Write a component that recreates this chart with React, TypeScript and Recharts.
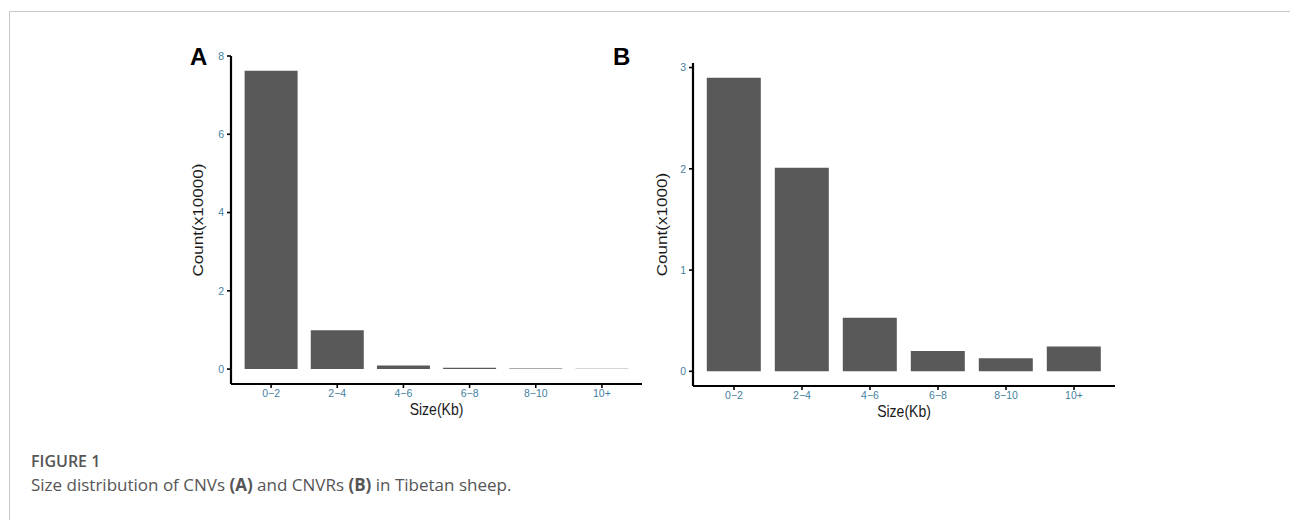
import React from "react"
import { BarChart, Bar, XAxis, YAxis } from "recharts"

const sizeBins = ["0-2", "2-4", "4-6", "6-8", "8-10", "10+"]
const cnvCounts = [7.62, 0.99, 0.09, 0.035, 0.012, 0.01]
const cnvrCounts = [2.9, 2.01, 0.53, 0.2, 0.128, 0.246]
const cnvTicks = [0, 2, 4, 6, 8]
const cnvrTicks = [0, 1, 2, 3]

const dataA = sizeBins.map((bin, i) => ({ bin, count: cnvCounts[i] }))
const dataB = sizeBins.map((bin, i) => ({ bin, count: cnvrCounts[i] }))

const tickColor = "#3f7f9f"
const axisFont = "'Liberation Sans', Arial, sans-serif"

const tickStyle = { fill: tickColor, fontSize: 10.5, fontFamily: axisFont }

// the source figure is stretched vertically, so axis titles are drawn a bit tall
function XTitle({ viewBox, value }: any) {
  const { x, y, width } = viewBox
  return (
    <text
      transform={`translate(${x + width / 2},${y + 31}) scale(1,1.2)`}
      textAnchor="middle"
      fontFamily={axisFont}
      fontSize={14}
      fill="#1a1a1a"
    >
      {value}
    </text>
  )
}

function makeYTitle(offset: number) {
  return ({ viewBox, value }: any) => {
    const { x, y, height } = viewBox
    return (
      <text
        transform={`translate(${x + offset},${y + height / 2}) rotate(-90) scale(1.22,1)`}
        textAnchor="middle"
        dominantBaseline="central"
        fontFamily={axisFont}
        fontSize={14}
        fill="#1a1a1a"
      >
        {value}
      </text>
    )
  }
}

type PanelProps = {
  data: { bin: string; count: number }[]
  ticks: number[]
  domain: [number, number]
  yLabel: string
  width: number
  height: number
  top: number
  yWidth: number
  xHeight: number
  xPad: number
  yLabelOffset: number
}

function Panel(p: PanelProps) {
  return (
    <BarChart
      width={p.width}
      height={p.height}
      data={p.data}
      margin={{ top: p.top, right: 18, left: 0, bottom: 0 }}
      barCategoryGap="10%"
    >
      <XAxis
        dataKey="bin"
        height={p.xHeight}
        padding={{ left: p.xPad, right: p.xPad }}
        axisLine={{ stroke: "#000", strokeWidth: 2.2 }}
        tickLine={{ stroke: "#000", strokeWidth: 1.6 }}
        tickSize={4}
        tickMargin={2}
        tick={tickStyle}
        tickFormatter={(v: string) => v.replace("-", "\u2212")}
        interval={0}
        label={{ value: "Size(Kb)", content: XTitle }}
      />
      <YAxis
        type="number"
        width={p.yWidth}
        domain={p.domain}
        ticks={p.ticks}
        interval={0}
        allowDataOverflow
        axisLine={{ stroke: "#000", strokeWidth: 2.2 }}
        tickLine={{ stroke: "#000", strokeWidth: 1.6 }}
        tickSize={4}
        tickMargin={3}
        tick={tickStyle}
        label={{ value: p.yLabel, content: makeYTitle(p.yLabelOffset) }}
      />
      <Bar dataKey="count" fill="#595959" isAnimationActive={false} />
    </BarChart>
  )
}

const letterStyle: React.CSSProperties = {
  position: "absolute",
  top: 45,
  fontFamily: axisFont,
  fontWeight: "bold",
  fontSize: 24,
  lineHeight: "24px",
  color: "#000",
}

export default function App() {
  return (
    <div
      style={{
        position: "absolute",
        left: 0,
        top: 0,
        width: 1290,
        height: 520,
        background: "#fff",
        overflow: "hidden",
      }}
    >
      <div
        style={{
          position: "absolute",
          left: 9,
          top: 11,
          right: -2,
          bottom: -2,
          borderTop: "1px solid #c8c8c8",
          borderLeft: "1px solid #c8c8c8",
        }}
      />

      <div style={{ position: "absolute", left: 150, top: 40 }}>
        <Panel
          data={dataA}
          ticks={cnvTicks}
          domain={[-0.381, 8.0]}
          yLabel="Count(x10000)"
          width={510}
          height={400}
          top={16}
          yWidth={81}
          xHeight={56}
          xPad={7}
          yLabelOffset={48}
        />
      </div>
      <div style={{ position: "absolute", left: 610, top: 40 }}>
        <Panel
          data={dataB}
          ticks={cnvrTicks}
          domain={[-0.145, 3.045]}
          yLabel="Count(x1000)"
          width={523}
          height={400}
          top={23}
          yWidth={83}
          xHeight={54}
          xPad={7}
          yLabelOffset={52}
        />
      </div>

      <div style={{ ...letterStyle, left: 190 }}>A</div>
      <div style={{ ...letterStyle, left: 613 }}>B</div>

      <div
        style={{
          position: "absolute",
          left: 31,
          top: 450,
          fontFamily: "'Open Sans', sans-serif",
          color: "#555",
          lineHeight: "23px",
        }}
      >
        <div style={{ fontWeight: 600, fontSize: 16 }}>FIGURE 1</div>
        <div style={{ fontSize: 17 }}>
          Size distribution of CNVs <b>(A)</b> and CNVRs <b>(B)</b> in Tibetan sheep.
        </div>
      </div>
    </div>
  )
}
